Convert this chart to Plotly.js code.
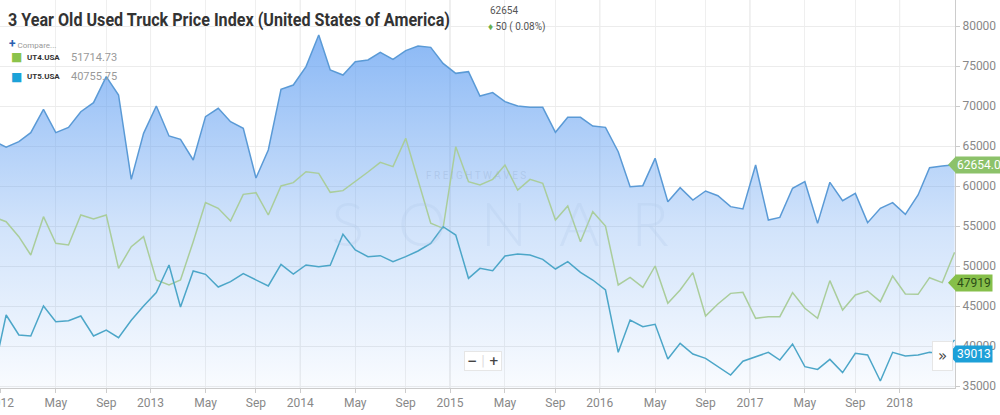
<!DOCTYPE html>
<html>
<head>
<meta charset="utf-8">
<script src="https://cdn.plot.ly/plotly-3.0.1.min.js"></script>
<style>
html,body{margin:0;padding:0;background:#fff;}
#chart{width:1000px;height:415px;}
</style>
</head>
<body>
<div id="chart"></div>
<script>
// ---- DATA ----
const months = [
 '2011-12-15',
 '2012-01-15','2012-02-15','2012-03-15','2012-04-15','2012-05-15','2012-06-15','2012-07-15','2012-08-15','2012-09-15','2012-10-15','2012-11-15','2012-12-15',
 '2013-01-15','2013-02-15','2013-03-15','2013-04-15','2013-05-15','2013-06-15','2013-07-15','2013-08-15','2013-09-15','2013-10-15','2013-11-15','2013-12-15',
 '2014-01-15','2014-02-15','2014-03-15','2014-04-15','2014-05-15','2014-06-15','2014-07-15','2014-08-15','2014-09-15','2014-10-15','2014-11-15','2014-12-15',
 '2015-01-15','2015-02-15','2015-03-15','2015-04-15','2015-05-15','2015-06-15','2015-07-15','2015-08-15','2015-09-15','2015-10-15','2015-11-15','2015-12-15',
 '2016-01-15','2016-02-15','2016-03-15','2016-04-15','2016-05-15','2016-06-15','2016-07-15','2016-08-15','2016-09-15','2016-10-15','2016-11-15','2016-12-15',
 '2017-01-15','2017-02-15','2017-03-15','2017-04-15','2017-05-15','2017-06-15','2017-07-15','2017-08-15','2017-09-15','2017-10-15','2017-11-15','2017-12-15',
 '2018-01-15','2018-02-15','2018-03-15','2018-04-15','2018-05-15'
];

const truckIndex = [
 65650,
 64850,65540,66670,69580,66670,67330,69290,70420,73670,71380,60830,66580,
 70000,66250,65830,63250,68670,69710,68040,67210,61000,64500,72080,72625,
 74920,78875,74500,73875,75540,75750,76710,75830,76920,77500,77330,75330,
 74080,74290,71250,71670,70540,70000,69830,69830,66710,68580,68580,67500,
 67330,64290,59920,60040,63460,58040,59790,58250,59375,58790,57420,57125,
 62625,55750,56080,59710,60540,55330,60460,58170,59080,55420,57210,57920,
 56460,58875,62290,62500,62654
];

const ut4 = [
 56140,
 55540,53670,51375,56170,52830,52625,56375,55875,56375,49710,52420,53670,
 48250,47625,48250,53040,57920,57210,55625,58960,59170,56375,60000,60420,
 61790,61580,59210,59420,60540,61750,62960,62420,65960,60750,55340,54710,
 64920,60540,60125,60830,62625,59500,60830,60330,55750,57500,53040,56790,
 55000,47625,48580,47330,50000,45330,47000,49170,43750,45250,46580,46710,
 43460,43670,43670,46670,44710,43460,48170,44500,46375,46875,45540,48750,
 46500,46460,48540,47919,51715
];

const ut5 = [
 36500,
 43875,41375,41250,45000,43040,43170,43750,41250,42000,41040,43210,45000,
 46670,50125,44875,49375,48960,47375,48040,49040,48300,47500,50210,49000,
 50125,49920,50080,53960,52000,51170,51290,50540,51170,51875,52830,54910,
 53875,48460,49710,49420,51250,51500,51375,50830,49625,50540,49210,48250,
 47000,39210,43250,42420,42710,38375,40330,39000,38460,37420,36375,38100,
 38670,39210,38250,40250,37420,37080,38330,36670,39080,38875,35625,39210,
 38750,38875,39210,39013,40756
];

const tickVals = ['2012-01-01','2012-05-15','2012-09-15','2013-01-01','2013-05-15','2013-09-15',
 '2014-01-01','2014-05-15','2014-09-15','2015-01-01','2015-05-15','2015-09-15',
 '2016-01-01','2016-05-15','2016-09-15','2017-01-01','2017-05-15','2017-09-15','2018-01-01'];
const tickText = ['2012','May','Sep','2013','May','Sep','2014','May','Sep','2015','May','Sep',
 '2016','May','Sep','2017','May','Sep','2018'];
const yearTicks = ['2013-01-01','2014-01-01','2015-01-01','2016-01-01','2017-01-01','2018-01-01'];

const titleText = '3 Year Old Used Truck Price Index (United States of America)';
const lastValue = '62654';
const changeText = '50 ( 0.08%)';
const seriesNames = ['UT4.USA','UT5.USA'];
const seriesLegendValues = ['51714.73','40755.75'];
const tagMain = 62654, tagMainText = '62654.0';
const tagUT4 = 47919, tagUT5 = 39013;

// ---- CHART ----
const W = 955, H = 388; // plot area size in px
const px = v => v / W;            // paper x from pixel
const py = v => 1 - v / H;        // paper y from pixel
const yPerPx = 125;

const traces = [
 {
  x: months, y: truckIndex, type: 'scatter', mode: 'lines', name: 'Index',
  line: {color: 'rgb(90,154,214)', width: 1.5},
  fill: 'tozeroy',
  fillgradient: {type: 'vertical', start: 35000, stop: 79000,
   colorscale: [[0, 'rgba(92,156,241,0.04)'], [0.45, 'rgba(92,156,241,0.28)'], [1, 'rgba(92,156,241,0.72)']]},
  hoverinfo: 'skip', showlegend: false
 },
 {
  x: months, y: ut4, type: 'scatter', mode: 'lines', name: seriesNames[0],
  line: {color: 'rgb(170,205,155)', width: 1.5}, hoverinfo: 'skip', showlegend: false
 },
 {
  x: months, y: ut5, type: 'scatter', mode: 'lines', name: seriesNames[1],
  line: {color: 'rgb(76,166,200)', width: 1.5}, hoverinfo: 'skip', showlegend: false
 }
];

const baseFont = 'Roboto, "Open Sans", sans-serif';

const annotations = [
 {xref:'paper', yref:'paper', x: px(489), y: py(10), xanchor:'left', yanchor:'middle', showarrow:false,
  text: lastValue, font:{family: baseFont, size: 10, color:'#555'}, borderpad: 0},
 {xref:'paper', yref:'paper', x: px(487), y: py(27), xanchor:'left', yanchor:'middle', showarrow:false,
  text: '<span style="color:#6ab04c">♦</span> ' + changeText, font:{family: baseFont, size: 10, color:'#555'}, borderpad: 0},
 {xref:'paper', yref:'paper', x: px(7), y: py(44), xanchor:'left', yanchor:'middle', showarrow:false,
  text: '<span style="color:#2a5fb0;font-size:12px"><b>+</b></span> Compare...', font:{family: baseFont, size: 8, color:'#999'}},
];

const legendColors = ['#8bc34a', '#1ca2d8'];
const legendY = [57, 77];
for (let i = 0; i < 2; i++) {
 annotations.push({xref:'paper', yref:'paper', x: px(9), y: py(legendY[i]), xanchor:'left', yanchor:'middle', showarrow:false,
  text: '■', font:{family: 'DejaVu Sans', size: 12, color: legendColors[i]}});
 annotations.push({xref:'paper', yref:'paper', x: px(25), y: py(legendY[i]), xanchor:'left', yanchor:'middle', showarrow:false,
  text: '<b>' + seriesNames[i] + '</b>', font:{family: baseFont, size: 8, color:'#333'}});
 annotations.push({xref:'paper', yref:'paper', x: px(69), y: py(legendY[i]), xanchor:'left', yanchor:'middle', showarrow:false,
  text: seriesLegendValues[i], font:{family: baseFont, size: 11, color:'#999'}});
}

// watermark
annotations.push({xref:'paper', yref:'paper', x: px(476), y: py(176), xanchor:'center', yanchor:'middle', showarrow:false,
 text: 'F R E I G H T W A V E S', font:{family: baseFont, size: 10, color:'rgba(140,165,200,0.30)'}});
annotations.push({xref:'paper', yref:'paper', x: px(500), y: py(222), xanchor:'center', yanchor:'middle', showarrow:false,
 text: 'S  O  N  A  R', font:{family: 'Lato', size: 62, weight: 300, color:'rgba(175,200,230,0.25)'}});

// zoom buttons
annotations.push({xref:'paper', yref:'paper', x: px(483), y: py(361), xanchor:'center', yanchor:'middle', showarrow:false,
 text: '<b>−</b> <span style="color:#ddd">|</span> <b>+</b>', font:{family: 'DejaVu Sans', size: 12, color:'#444'},
 bgcolor:'#ffffff', bordercolor:'#e6e6e6', borderwidth:1, borderpad:2});
// scroll button
annotations.push({xref:'paper', yref:'paper', x: px(942), y: py(356), xanchor:'center', yanchor:'middle', showarrow:false,
 text: '»', font:{family: 'DejaVu Sans', size: 15, color:'#444'},
 bgcolor:'#ffffff', bordercolor:'#e6e6e6', borderwidth:1, borderpad:5});

// end tags
const tags = [
 {v: tagMain, t: tagMainText, bg: '#8cc26a', fg: '#ffffff'},
 {v: tagUT4, t: String(tagUT4), bg: '#86bf4a', fg: '#2b4d17'},
 {v: tagUT5, t: String(tagUT5), bg: '#1da0d8', fg: '#ffffff'}
];
const shapes = [];
tags.forEach(tg => {
 annotations.push({xref:'paper', yref:'y', x: px(955), y: tg.v, xanchor:'left', yanchor:'middle', showarrow:false,
  text: tg.t, font:{family: baseFont, size: 12, color: tg.fg}, bgcolor: tg.bg, borderpad: 1, xshift: 0});
 shapes.push({type:'path', xref:'paper', yref:'y', layer:'above',
  path: 'M ' + px(948) + ' ' + tg.v + ' L ' + px(956) + ' ' + (tg.v + 8.5 * yPerPx) + ' L ' + px(956) + ' ' + (tg.v - 8.5 * yPerPx) + ' Z',
  fillcolor: tg.bg, line: {width: 0}});
});

// darker year gridlines
yearTicks.forEach(d => {
 shapes.push({type:'line', xref:'x', yref:'paper', x0: d, x1: d, y0: 0, y1: 1, layer:'below',
  line:{color:'#dcdcdc', width:1}});
});

const layout = {
 width: 1000, height: 415,
 margin: {l: 0, r: 45, t: 0, b: 27, pad: 0},
 paper_bgcolor: '#ffffff', plot_bgcolor: '#ffffff',
 showlegend: false,
 title: {text: titleText, xref: 'container', yref: 'container', x: 0.008, y: 1 - 19/415,
  xanchor: 'left', yanchor: 'middle',
  font: {family: 'Roboto, sans-serif', size: 19, weight: 'bold', color: '#333'}},
 xaxis: {
  type: 'date', range: ['2011-12-31', '2018-05-16'],
  tickmode: 'array', tickvals: tickVals, ticktext: tickText,
  ticks: 'outside', ticklen: 4, tickcolor: '#cccccc',
  ticklabeloverflow: 'allow',
  showline: true, linecolor: '#cccccc', linewidth: 1,
  showgrid: true, gridcolor: '#efefef', zeroline: false,
  tickfont: {family: baseFont, size: 12, color: '#888'},
  fixedrange: true
 },
 yaxis: {
  side: 'right', range: [34750, 83250], dtick: 5000, tick0: 0,
  ticks: 'outside', ticklen: 4, tickcolor: '#cccccc',
  showline: true, linecolor: '#cccccc', linewidth: 1,
  showgrid: true, gridcolor: '#ececec', zeroline: false,
  tickfont: {family: baseFont, size: 12, color: '#888'},
  tickformat: 'd',
  fixedrange: true
 },
 annotations: annotations,
 shapes: shapes
};

Plotly.newPlot('chart', traces, layout, {displayModeBar: false, staticPlot: true}).then(gd => {
 // the reference title uses a condensed face: compress the real text to its width
 const t = gd.querySelector('.gtitle');
 if (t) {
  t.setAttribute('textLength', '442');
  t.setAttribute('lengthAdjust', 'spacingAndGlyphs');
 }
});
</script>
</body>
</html>
